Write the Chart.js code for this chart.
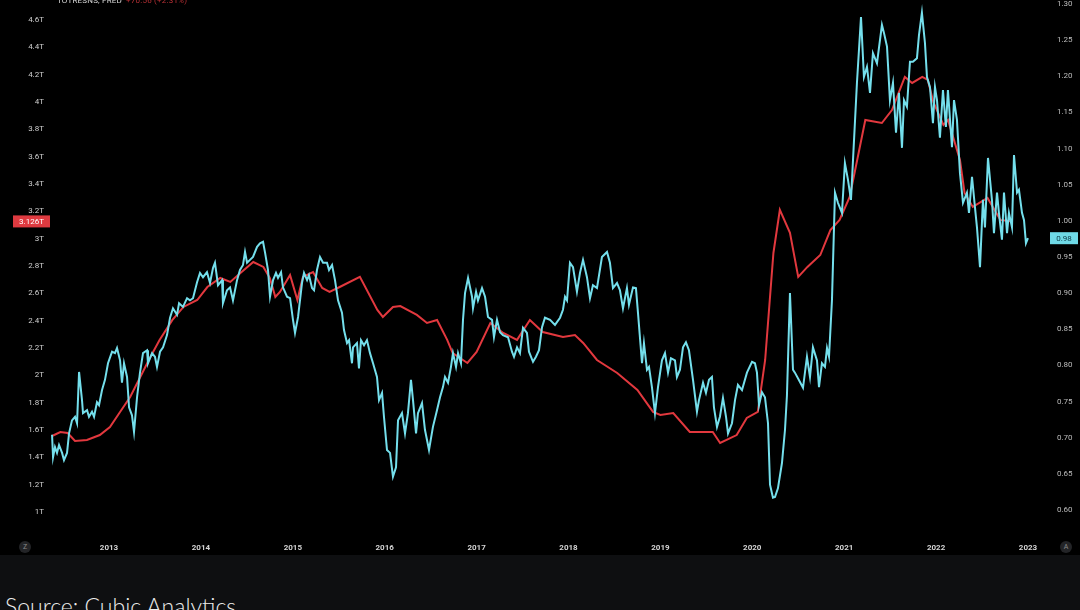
<!DOCTYPE html>
<html>
<head>
<meta charset="utf-8">
<script src="https://cdn.jsdelivr.net/npm/chart.js@4"></script>
<style>
  body { margin: 0; background: #0e0f11; width: 1080px; height: 610px; overflow: hidden; position: relative; font-family: Roboto, sans-serif; }
  #wrap { position: absolute; left: 0; top: 0; width: 1080px; height: 555px; background: #000; }
  #head { position: absolute; left: 57px; top: -4px; font-size: 8px; color: #d6d6d6; letter-spacing: 0.2px; }
  #head span { color: #b83035; margin-left: 4px; }
  .btn { position: absolute; top: 541px; width: 12px; height: 12px; border-radius: 50%; background: #232427; color: #8a8a8a; font-size: 7px; line-height: 12px; text-align: center; }
  #source { position: absolute; left: 5px; top: 595px; font-family: Lato, sans-serif; font-weight: 300; font-size: 23px; line-height: 23px; color: #ececec; white-space: nowrap; }
</style>
</head>
<body>
<div id="wrap"><canvas id="chart"></canvas></div>
<div id="head">TOTRESNS, FRED<span>+70.56 (+2.31%)</span></div>
<div class="btn" style="left:19px">Z</div>
<div class="btn" style="left:1060px">A</div>
<div id="source">Source: Cubic Analytics</div>
<script>
// Total reserves (TOTRESNS, left axis, trillions)
const reserveYears = [2012.38, 2012.47, 2012.55, 2012.63, 2012.76, 2012.90, 2013.01, 2013.12, 2013.23, 2013.34, 2013.45, 2013.55, 2013.69, 2013.81, 2013.96,
  2014.07, 2014.21, 2014.32, 2014.43, 2014.57, 2014.68, 2014.75, 2014.81, 2014.86, 2014.97, 2015.05, 2015.11, 2015.22, 2015.32, 2015.40, 2015.51, 2015.73, 2015.92, 2015.98,
  2016.09, 2016.17, 2016.35, 2016.46, 2016.57, 2016.68, 2016.74, 2016.90, 2017.00, 2017.15, 2017.29, 2017.44, 2017.58, 2017.72, 2017.94,
  2018.07, 2018.16, 2018.31, 2018.53, 2018.75, 2018.92, 2019.00, 2019.14, 2019.32, 2019.57, 2019.65, 2019.83, 2019.94,
  2020.06, 2020.14, 2020.23, 2020.30, 2020.41, 2020.50, 2020.60, 2020.74, 2020.85, 2020.95, 2021.06, 2021.23, 2021.41, 2021.52, 2021.66, 2021.74, 2021.85, 2021.91, 2021.97,
  2022.08, 2022.13, 2022.26, 2022.31, 2022.40, 2022.56, 2022.70, 2022.83];
const reserveValues = [1.556, 1.585, 1.578, 1.520, 1.527, 1.563, 1.622, 1.732, 1.841, 1.988, 2.134, 2.259, 2.405, 2.500, 2.551,
  2.646, 2.712, 2.683, 2.749, 2.829, 2.793, 2.712, 2.573, 2.610, 2.734, 2.551, 2.720, 2.756, 2.639, 2.610, 2.646, 2.720, 2.478, 2.427,
  2.500, 2.507, 2.442, 2.383, 2.405, 2.259, 2.163, 2.090, 2.171, 2.383, 2.310, 2.259, 2.405, 2.317, 2.281,
  2.295, 2.237, 2.112, 2.017, 1.893, 1.732, 1.710, 1.724, 1.585, 1.585, 1.505, 1.563, 1.688,
  1.732, 2.112, 2.895, 3.210, 3.042, 2.720, 2.793, 2.880, 3.063, 3.137, 3.305, 3.868, 3.846, 3.941, 4.183, 4.139, 4.183, 4.161, 4.000,
  3.832, 3.868, 3.576, 3.334, 3.232, 3.298, 3.137, 3.126];

// Comparison ratio (right axis)
const ratioYears = [2012.380, 2012.391, 2012.412, 2012.434, 2012.456, 2012.489, 2012.510, 2012.543, 2012.565, 2012.597, 2012.630, 2012.652, 2012.674, 2012.706, 2012.717,
  2012.761, 2012.782, 2012.815, 2012.837, 2012.869, 2012.891, 2012.924, 2012.956, 2012.989, 2013.033, 2013.065, 2013.087, 2013.120, 2013.141, 2013.163, 2013.196,
  2013.218, 2013.250, 2013.272, 2013.305, 2013.337, 2013.370, 2013.414, 2013.424, 2013.468, 2013.500, 2013.522, 2013.555, 2013.588, 2013.631, 2013.664, 2013.696,
  2013.740, 2013.762, 2013.805, 2013.849, 2013.881, 2013.914, 2013.958, 2013.990, 2014.023, 2014.066, 2014.099, 2014.132, 2014.153, 2014.186, 2014.230, 2014.240,
  2014.284, 2014.317, 2014.349, 2014.393, 2014.425, 2014.458, 2014.480, 2014.502, 2014.534, 2014.567, 2014.611, 2014.643, 2014.676, 2014.698, 2014.730, 2014.752,
  2014.785, 2014.817, 2014.839, 2014.872, 2014.893, 2014.937, 2014.970, 2015.002, 2015.024, 2015.057, 2015.100, 2015.122, 2015.155, 2015.176, 2015.209, 2015.231,
  2015.263, 2015.296, 2015.329, 2015.372, 2015.394, 2015.427, 2015.459, 2015.492, 2015.535, 2015.557, 2015.590, 2015.612, 2015.644, 2015.655, 2015.698, 2015.720,
  2015.742, 2015.775, 2015.807, 2015.840, 2015.873, 2015.916, 2015.938, 2015.971, 2015.992, 2016.025, 2016.058, 2016.090, 2016.123, 2016.145, 2016.188, 2016.221,
  2016.253, 2016.286, 2016.308, 2016.341, 2016.362, 2016.406, 2016.438, 2016.482, 2016.525, 2016.569, 2016.602, 2016.634, 2016.656, 2016.689, 2016.721, 2016.743,
  2016.776, 2016.798, 2016.830, 2016.852, 2016.874, 2016.907, 2016.950, 2016.961, 2016.994, 2017.015, 2017.059, 2017.092, 2017.124, 2017.168, 2017.189, 2017.222,
  2017.255, 2017.287, 2017.342, 2017.385, 2017.407, 2017.440, 2017.472, 2017.505, 2017.548, 2017.570, 2017.614, 2017.646, 2017.679, 2017.712, 2017.744, 2017.799,
  2017.853, 2017.908, 2017.940, 2017.962, 2017.984, 2018.016, 2018.049, 2018.092, 2018.125, 2018.158, 2018.201, 2018.234, 2018.266, 2018.310, 2018.364, 2018.419,
  2018.451, 2018.484, 2018.528, 2018.560, 2018.593, 2018.636, 2018.658, 2018.702, 2018.734, 2018.756, 2018.800, 2018.821, 2018.854, 2018.876, 2018.908, 2018.941,
  2018.974, 2019.017, 2019.050, 2019.083, 2019.115, 2019.159, 2019.180, 2019.213, 2019.246, 2019.278, 2019.311, 2019.355, 2019.398, 2019.420, 2019.464, 2019.496,
  2019.529, 2019.561, 2019.583, 2019.616, 2019.648, 2019.681, 2019.714, 2019.736, 2019.779, 2019.812, 2019.844, 2019.888, 2019.942, 2019.997, 2020.029, 2020.051,
  2020.073, 2020.105, 2020.138, 2020.171, 2020.193, 2020.225, 2020.247, 2020.279, 2020.323, 2020.356, 2020.377, 2020.410, 2020.443, 2020.464, 2020.519, 2020.552,
  2020.595, 2020.628, 2020.660, 2020.704, 2020.726, 2020.758, 2020.791, 2020.813, 2020.835, 2020.867, 2020.900, 2020.932, 2020.976, 2021.008, 2021.041, 2021.074,
  2021.096, 2021.139, 2021.183, 2021.215, 2021.248, 2021.281, 2021.313, 2021.357, 2021.411, 2021.433, 2021.466, 2021.498, 2021.531, 2021.564, 2021.596, 2021.629,
  2021.651, 2021.683, 2021.716, 2021.748, 2021.792, 2021.814, 2021.846, 2021.879, 2021.901, 2021.934, 2021.966, 2021.988, 2022.010, 2022.042, 2022.075, 2022.107,
  2022.129, 2022.173, 2022.195, 2022.227, 2022.260, 2022.293, 2022.336, 2022.358, 2022.391, 2022.423, 2022.445, 2022.478, 2022.510, 2022.532, 2022.565, 2022.608,
  2022.630, 2022.663, 2022.684, 2022.717, 2022.739, 2022.772, 2022.793, 2022.826, 2022.848, 2022.881, 2022.902, 2022.935, 2022.957, 2022.978, 2023.000];
const ratioValues = [0.704, 0.673, 0.687, 0.679, 0.690, 0.679, 0.669, 0.679, 0.706, 0.724, 0.729, 0.720, 0.791, 0.752, 0.734,
  0.738, 0.729, 0.736, 0.729, 0.749, 0.745, 0.766, 0.780, 0.803, 0.819, 0.817, 0.824, 0.807, 0.776, 0.803, 0.784,
  0.742, 0.731, 0.708, 0.756, 0.790, 0.817, 0.821, 0.803, 0.817, 0.812, 0.798, 0.819, 0.825, 0.842, 0.866, 0.879,
  0.870, 0.886, 0.881, 0.893, 0.890, 0.893, 0.915, 0.928, 0.922, 0.929, 0.914, 0.935, 0.942, 0.911, 0.918, 0.886,
  0.904, 0.908, 0.890, 0.918, 0.932, 0.939, 0.957, 0.942, 0.946, 0.950, 0.964, 0.969, 0.971, 0.956, 0.932, 0.895,
  0.918, 0.928, 0.921, 0.929, 0.908, 0.895, 0.893, 0.863, 0.845, 0.867, 0.914, 0.928, 0.918, 0.925, 0.907, 0.904,
  0.932, 0.950, 0.942, 0.942, 0.932, 0.939, 0.918, 0.890, 0.873, 0.849, 0.831, 0.835, 0.803, 0.825, 0.831, 0.796,
  0.835, 0.828, 0.835, 0.817, 0.803, 0.784, 0.752, 0.762, 0.729, 0.683, 0.679, 0.646, 0.659, 0.724, 0.734, 0.706,
  0.734, 0.780, 0.752, 0.706, 0.734, 0.748, 0.711, 0.683, 0.715, 0.738, 0.756, 0.770, 0.784, 0.776, 0.798, 0.817,
  0.798, 0.817, 0.803, 0.863, 0.900, 0.921, 0.895, 0.879, 0.902, 0.890, 0.907, 0.895, 0.867, 0.863, 0.839, 0.863,
  0.846, 0.842, 0.839, 0.819, 0.812, 0.825, 0.817, 0.852, 0.845, 0.819, 0.805, 0.812, 0.821, 0.853, 0.866, 0.863,
  0.856, 0.866, 0.877, 0.895, 0.890, 0.942, 0.936, 0.902, 0.928, 0.946, 0.922, 0.893, 0.911, 0.907, 0.950, 0.957,
  0.942, 0.907, 0.914, 0.904, 0.879, 0.907, 0.884, 0.908, 0.907, 0.873, 0.803, 0.831, 0.794, 0.798, 0.770, 0.734,
  0.770, 0.807, 0.817, 0.790, 0.810, 0.807, 0.784, 0.794, 0.825, 0.832, 0.821, 0.780, 0.736, 0.752, 0.776, 0.762,
  0.780, 0.784, 0.742, 0.715, 0.729, 0.755, 0.729, 0.706, 0.720, 0.752, 0.773, 0.766, 0.790, 0.805, 0.803, 0.790,
  0.745, 0.763, 0.756, 0.720, 0.635, 0.617, 0.618, 0.630, 0.665, 0.711, 0.758, 0.900, 0.794, 0.790, 0.777, 0.769,
  0.812, 0.784, 0.825, 0.807, 0.770, 0.803, 0.798, 0.824, 0.812, 0.890, 1.039, 1.025, 1.011, 1.080, 1.057, 1.029,
  1.084, 1.191, 1.282, 1.199, 1.213, 1.177, 1.232, 1.218, 1.271, 1.260, 1.241, 1.167, 1.191, 1.122, 1.177, 1.101,
  1.167, 1.158, 1.220, 1.220, 1.225, 1.257, 1.288, 1.246, 1.199, 1.185, 1.135, 1.185, 1.167, 1.115, 1.181, 1.130,
  1.181, 1.102, 1.167, 1.140, 1.066, 1.025, 1.039, 1.011, 1.061, 1.019, 0.991, 0.936, 1.029, 0.991, 1.087, 1.029,
  0.983, 1.039, 1.011, 0.974, 1.039, 0.983, 1.011, 0.991, 1.091, 1.039, 1.043, 1.011, 1.001, 0.969, 0.976];

const yearTicks = [2013, 2014, 2015, 2016, 2017, 2018, 2019, 2020, 2021, 2022, 2023];
const reserveTicks = [1, 1.2, 1.4, 1.6, 1.8, 2, 2.2, 2.4, 2.6, 2.8, 3, 3.2, 3.4, 3.6, 3.8, 4, 4.2, 4.4, 4.6];
const ratioTicks = [0.60, 0.65, 0.70, 0.75, 0.80, 0.85, 0.90, 0.95, 1.00, 1.05, 1.10, 1.15, 1.20, 1.25, 1.30];

const RED = '#e2383e';
const CYAN = '#74dfec';

const reservePoints = reserveYears.map((x, i) => ({ x: x, y: reserveValues[i] }));
const ratioPoints = ratioYears.map((x, i) => ({ x: x, y: ratioValues[i] }));

// price badges on both axes for the last values
const lastValueBadges = {
  id: 'lastValueBadges',
  afterDraw(chart) {
    const ctx = chart.ctx;
    const lastRes = reserveValues[reserveValues.length - 1];
    const lastRatio = ratioValues[ratioValues.length - 1];
    const yR = chart.scales.yLeft.getPixelForValue(lastRes);
    const yC = chart.scales.yRight.getPixelForValue(lastRatio);
    ctx.save();
    ctx.font = '8px Roboto';
    ctx.textAlign = 'center';
    ctx.textBaseline = 'middle';
    ctx.fillStyle = '#de3a40';
    ctx.fillRect(13, yR - 6, 37, 12);
    ctx.fillStyle = '#ffffff';
    ctx.fillText(lastRes.toFixed(3) + 'T', 31.5, yR + 0.5);
    ctx.fillStyle = '#6fd9e6';
    ctx.fillRect(1050, yC - 6, 28, 12);
    ctx.fillStyle = '#0b3a44';
    ctx.fillText(lastRatio.toFixed(2), 1064, yC + 0.5);
    ctx.restore();
  }
};

const noGrid = { display: false, drawTicks: false };

// keep the plot area flush with the top of the canvas
function fixWidth(w) {
  return (axis) => { axis.width = w; axis.paddingTop = 0; axis.paddingBottom = 0; };
}

new Chart(document.getElementById('chart'), {
  type: 'line',
  data: {
    datasets: [
      {
        label: 'Ratio',
        data: ratioPoints,
        yAxisID: 'yRight',
        borderColor: CYAN,
        borderWidth: 2,
        pointRadius: 0,
        tension: 0
      },
      {
        label: 'TOTRESNS',
        data: reservePoints,
        yAxisID: 'yLeft',
        borderColor: RED,
        borderWidth: 2,
        pointRadius: 0,
        tension: 0
      }
    ]
  },
  options: {
    responsive: true,
    maintainAspectRatio: false,
    animation: false,
    layout: { padding: 0, autoPadding: false },
    plugins: { legend: { display: false }, tooltip: { enabled: false } },
    scales: {
      x: {
        type: 'linear',
        min: 2012.336,
        max: 2023.218,
        afterBuildTicks: (axis) => { axis.ticks = yearTicks.map(v => ({ value: v })); },
        afterFit: (axis) => { axis.height = 15; axis.paddingLeft = 0; axis.paddingRight = 0; },
        ticks: {
          color: '#d4d4d4',
          font: { family: 'Roboto', size: 8, weight: 'bold' },
          padding: 3,
          maxRotation: 0,
          autoSkip: false,
          callback: (v) => String(v)
        },
        grid: noGrid,
        border: { display: false }
      },
      yLeft: {
        position: 'left',
        min: 0.795,
        max: 4.746,
        afterBuildTicks: (axis) => { axis.ticks = reserveTicks.map(v => ({ value: v })); },
        afterFit: fixWidth(48),
        ticks: {
          color: '#cfcfcf',
          font: { family: 'Roboto', size: 8 },
          padding: 4,
          autoSkip: false,
          callback: (v) => (Math.round(v * 10) / 10) + 'T'
        },
        grid: noGrid,
        border: { display: false }
      },
      yRight: {
        position: 'right',
        min: 0.5585,
        max: 1.3055,
        afterBuildTicks: (axis) => { axis.ticks = ratioTicks.map(v => ({ value: v })); },
        afterFit: fixWidth(32),
        ticks: {
          color: '#bdbdbd',
          font: { family: 'Roboto', size: 8 },
          padding: 9,
          autoSkip: false,
          callback: (v) => v.toFixed(2)
        },
        grid: noGrid,
        border: { display: false }
      }
    }
  },
  plugins: [lastValueBadges]
});
</script>
</body>
</html>
